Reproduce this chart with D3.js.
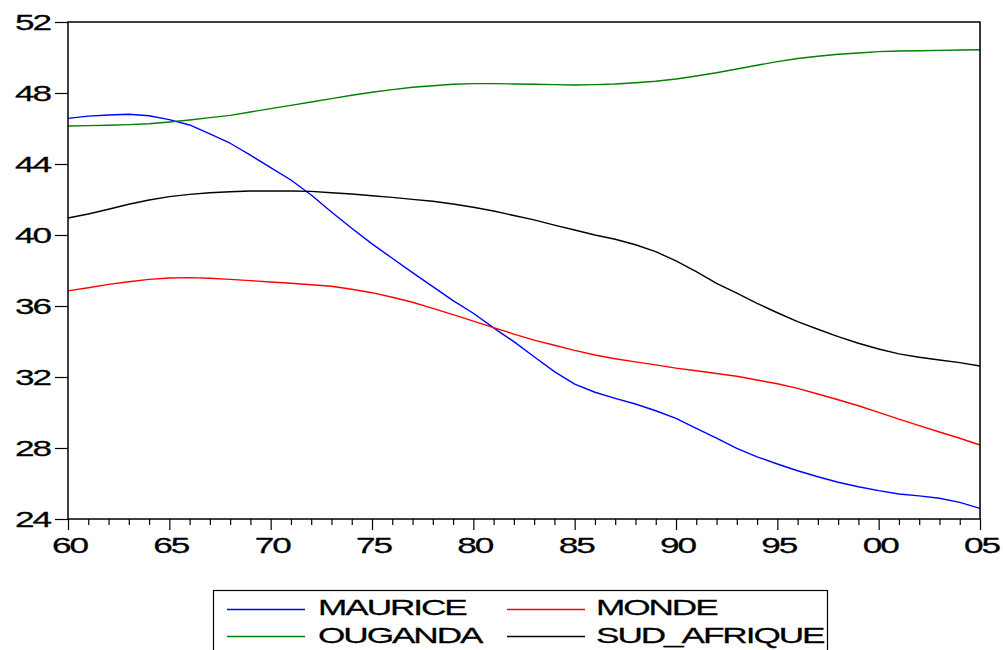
<!DOCTYPE html>
<html>
<head>
<meta charset="utf-8">
<script src="https://cdn.jsdelivr.net/npm/d3@7"></script>
<style>
  html, body { margin: 0; padding: 0; background: #fff; }
  svg { display: block; }
  text { font-family: "Liberation Sans", Arial, sans-serif; fill: #000; }
</style>
</head>
<body>
<svg id="chart" width="1003" height="650"></svg>
<script>
// ---- data ----
const years = d3.range(1960, 2006);
const maurice = [46.57, 46.70, 46.76, 46.80, 46.72, 46.50, 46.20, 45.70, 45.17, 44.50,
  43.80, 43.10, 42.25, 41.30, 40.38, 39.50, 38.69, 37.88, 37.09, 36.30,
  35.59, 34.77, 33.99, 33.14, 32.30, 31.60, 31.14, 30.80, 30.48, 30.10,
  29.67, 29.11, 28.55, 27.98, 27.50, 27.10, 26.72, 26.38, 26.07, 25.82,
  25.60, 25.41, 25.30, 25.17, 24.94, 24.60];
const monde = [36.85, 37.03, 37.22, 37.37, 37.50, 37.58, 37.60, 37.56, 37.50, 37.43,
  37.35, 37.28, 37.20, 37.11, 36.94, 36.75, 36.49, 36.21, 35.87, 35.51,
  35.15, 34.78, 34.42, 34.08, 33.79, 33.50, 33.24, 33.03, 32.85, 32.68,
  32.50, 32.35, 32.20, 32.04, 31.83, 31.62, 31.36, 31.04, 30.72, 30.38,
  30.01, 29.63, 29.26, 28.90, 28.55, 28.17];
const ouganda = [46.14, 46.16, 46.18, 46.22, 46.27, 46.37, 46.48, 46.61, 46.74, 46.93,
  47.12, 47.30, 47.49, 47.68, 47.87, 48.04, 48.19, 48.32, 48.41, 48.49,
  48.53, 48.53, 48.51, 48.49, 48.47, 48.45, 48.47, 48.51, 48.58, 48.66,
  48.79, 48.96, 49.14, 49.35, 49.56, 49.77, 49.94, 50.07, 50.18, 50.25,
  50.33, 50.37, 50.38, 50.40, 50.42, 50.44];
const sudAfrique = [40.96, 41.18, 41.45, 41.73, 41.97, 42.16, 42.29, 42.38, 42.44, 42.48,
  42.48, 42.48, 42.46, 42.38, 42.31, 42.21, 42.12, 42.01, 41.90, 41.75,
  41.56, 41.35, 41.10, 40.85, 40.56, 40.28, 40.00, 39.76, 39.45, 39.06,
  38.54, 37.94, 37.28, 36.72, 36.15, 35.62, 35.12, 34.69, 34.27, 33.90,
  33.58, 33.30, 33.11, 32.96, 32.81, 32.62];
const seriesNames = ["MAURICE", "MONDE", "OUGANDA", "SUD_AFRIQUE"];
const seriesColors = ["#0000ff", "#ff0000", "#008000", "#000000"];
const yTicks = [24, 28, 32, 36, 40, 44, 48, 52];
const xMajorTicks = [1960, 1965, 1970, 1975, 1980, 1985, 1990, 1995, 2000, 2005];

const seriesValues = [maurice, monde, ouganda, sudAfrique];

// ---- layout ----
const svg = d3.select("#chart");
const L = 68, R = 980, T = 22, B = 519;
const x = d3.scaleLinear().domain([1960, 2005]).range([L, R]);
const y = d3.scaleLinear().domain([24, 52]).range([B, T]);

const SX = 1.6;       // horizontal stretch of all text (as in the reference)
const LS = "-1.3px";  // tight letter spacing

// series lines
const line = d3.line().x((d, i) => x(years[i])).y(d => y(d));
seriesValues.forEach((vals, k) => {
  svg.append("path")
    .datum(vals)
    .attr("d", line)
    .attr("fill", "none")
    .attr("stroke", seriesColors[k])
    .attr("stroke-width", 1.4)
    .attr("stroke-linejoin", "round");
});

// frame
svg.append("rect")
  .attr("x", L).attr("y", T)
  .attr("width", R - L).attr("height", B - T)
  .attr("fill", "none").attr("stroke", "#000").attr("stroke-width", 1.5);
svg.append("line")
  .attr("x1", R + 0.5).attr("x2", R + 0.5).attr("y1", T).attr("y2", B)
  .attr("stroke", "#333").attr("stroke-width", 1);

// x axis
const xAxis = d3.axisBottom(x)
  .tickValues(years)
  .tickSize(6)
  .tickFormat(d => xMajorTicks.includes(d) ? String(d % 100).padStart(2, "0") : "");
const gx = svg.append("g").attr("transform", `translate(0,${B})`).call(xAxis);
gx.select(".domain").remove();
gx.selectAll(".tick line")
  .attr("stroke", "#000").attr("stroke-width", 1.2)
  .attr("y2", d => xMajorTicks.includes(d) ? 11 : 6);
gx.selectAll(".tick text")
  .attr("y", 0).attr("dy", 0)
  .attr("transform", `translate(1,33.5) scale(${SX},1)`)
  .style("font-size", "22px")
  .style("letter-spacing", LS)
  .style("font-family", "'Liberation Sans', Arial, sans-serif")
  .attr("fill", "#000")
  .attr("stroke", "#000").attr("stroke-width", 0.25);

// y axis
const yAxis = d3.axisLeft(y).tickValues(yTicks).tickSize(13).tickFormat(d3.format("d"));
const gy = svg.append("g").attr("transform", `translate(${L},0)`).call(yAxis);
gy.select(".domain").remove();
gy.selectAll(".tick line").attr("stroke", "#000").attr("stroke-width", 1.2);
gy.selectAll(".tick text")
  .attr("x", 0).attr("dy", 0)
  .attr("transform", `translate(-18,7.5) scale(${SX},1)`)
  .style("font-size", "22px")
  .style("letter-spacing", LS)
  .style("font-family", "'Liberation Sans', Arial, sans-serif")
  .attr("fill", "#000")
  .attr("stroke", "#000").attr("stroke-width", 0.25);

// legend
const legend = svg.append("g");
legend.append("rect")
  .attr("x", 213.5).attr("y", 590.5)
  .attr("width", 614).attr("height", 80)
  .attr("fill", "#fff").attr("stroke", "#000").attr("stroke-width", 1.2);
const legPos = [
  { lx: 227, tx: 318, ly: 609.5, ty: 615 },
  { lx: 507, tx: 596, ly: 609.5, ty: 615 },
  { lx: 227, tx: 318, ly: 636.5, ty: 642.5 },
  { lx: 507, tx: 596, ly: 636.5, ty: 642.5 }
];
seriesNames.forEach((name, k) => {
  const p = legPos[k];
  legend.append("line")
    .attr("x1", p.lx).attr("x2", p.lx + 78)
    .attr("y1", p.ly).attr("y2", p.ly)
    .attr("stroke", seriesColors[k]).attr("stroke-width", 1.4);
  legend.append("text")
    .attr("transform", `translate(${p.tx},${p.ty}) scale(${SX},1)`)
    .style("font-size", "22px")
    .style("letter-spacing", LS)
    .attr("stroke", "#000").attr("stroke-width", 0.25)
    .text(name);
});
</script>
</body>
</html>
